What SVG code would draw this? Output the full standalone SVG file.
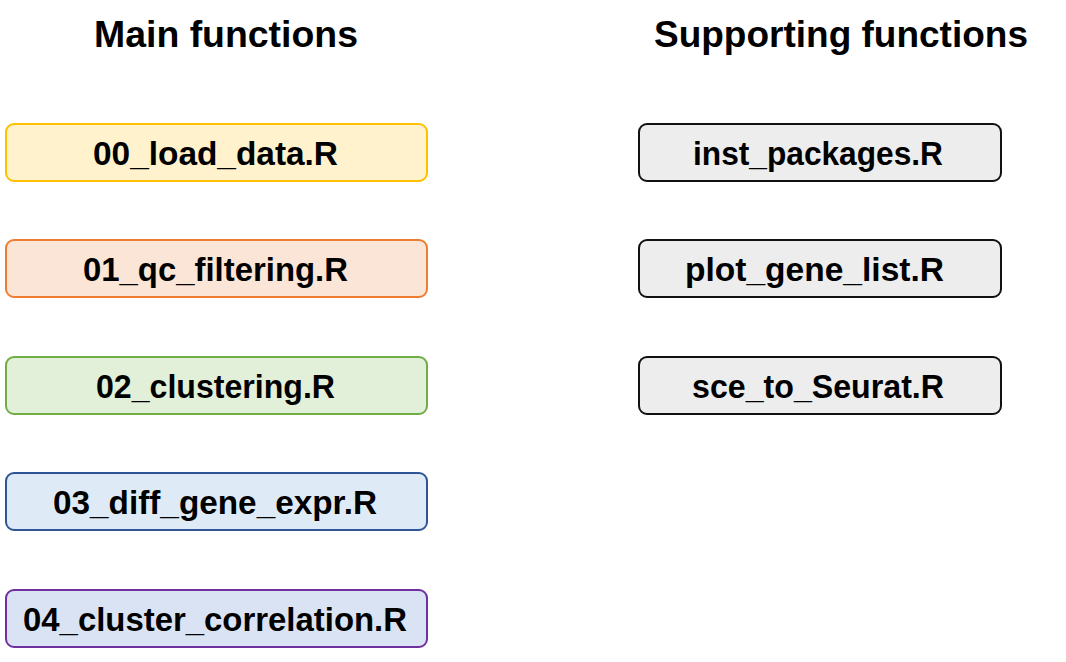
<svg xmlns="http://www.w3.org/2000/svg" width="1066" height="662" viewBox="0 0 1066 662">
<style>
.title{font-family:"Liberation Sans",Arial,sans-serif;font-weight:bold;font-size:37.5px;fill:#000;text-anchor:middle}
.lbl{font-family:"Liberation Sans",Arial,sans-serif;font-weight:bold;font-size:34px;fill:#000;text-anchor:middle}
.box{stroke-width:2}
</style>
<rect width="1066" height="662" fill="#fff"/>
<text class="title" x="226" y="47" textLength="264" lengthAdjust="spacingAndGlyphs">Main functions</text>
<text class="title" x="841" y="47" textLength="374" lengthAdjust="spacingAndGlyphs">Supporting functions</text>
<g id="load_data">
<rect class="box" x="6" y="124" width="421" height="57" rx="8" fill="#FFF2CC" stroke="#FFC000"/>
<text class="lbl" x="215.5" y="164.5" textLength="245" lengthAdjust="spacingAndGlyphs">00_load_data.R</text>
</g>
<g id="qc_filtering">
<rect class="box" x="6" y="240" width="421" height="57" rx="8" fill="#FBE5D6" stroke="#ED7D31"/>
<text class="lbl" x="215.5" y="281" textLength="265" lengthAdjust="spacingAndGlyphs">01_qc_filtering.R</text>
</g>
<g id="clustering">
<rect class="box" x="6" y="357" width="421" height="57" rx="8" fill="#E2F0D9" stroke="#70AD47"/>
<text class="lbl" x="215.5" y="397.5" textLength="239" lengthAdjust="spacingAndGlyphs">02_clustering.R</text>
</g>
<g id="diff_gene_expr">
<rect class="box" x="6" y="473" width="421" height="57" rx="8" fill="#DEEBF7" stroke="#2F5597"/>
<text class="lbl" x="215" y="514" textLength="324" lengthAdjust="spacingAndGlyphs">03_diff_gene_expr.R</text>
</g>
<g id="cluster_correlation">
<rect class="box" x="6" y="590" width="421" height="57" rx="8" fill="#DAE3F3" stroke="#7030A0"/>
<text class="lbl" x="215" y="630.5" textLength="384" lengthAdjust="spacingAndGlyphs">04_cluster_correlation.R</text>
</g>
<g id="inst_packages">
<rect class="box" x="639" y="124" width="362" height="57" rx="8" fill="#EDEDED" stroke="#111"/>
<text class="lbl" x="818" y="164.5" textLength="250" lengthAdjust="spacingAndGlyphs">inst_packages.R</text>
</g>
<g id="plot_gene_list">
<rect class="box" x="639" y="240" width="362" height="57" rx="8" fill="#EDEDED" stroke="#111"/>
<text class="lbl" x="814.5" y="281" textLength="259" lengthAdjust="spacingAndGlyphs">plot_gene_list.R</text>
</g>
<g id="sce_to_Seurat">
<rect class="box" x="639" y="357" width="362" height="57" rx="8" fill="#EDEDED" stroke="#111"/>
<text class="lbl" x="818" y="397.5" textLength="252" lengthAdjust="spacingAndGlyphs">sce_to_Seurat.R</text>
</g>
<g id="connectors"></g>
</svg>
